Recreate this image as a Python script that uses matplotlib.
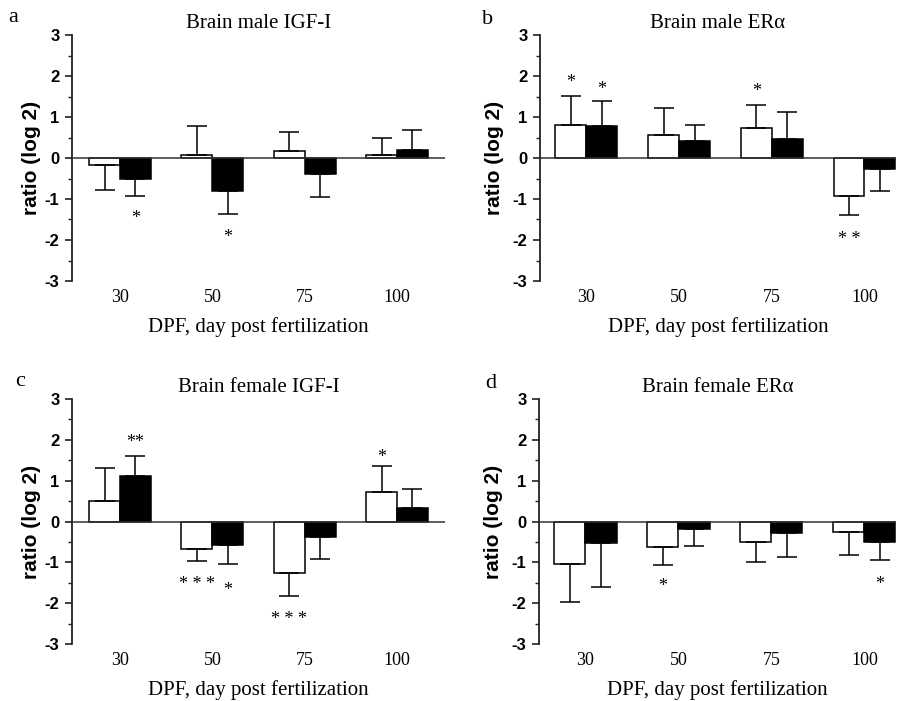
import matplotlib
matplotlib.use("Agg")
import matplotlib.pyplot as plt
import matplotlib.transforms as mtransforms
import numpy as np
from matplotlib.ticker import MultipleLocator

days = ["30", "50", "75", "100"]

# panel a: Brain male IGF-I
a_white = [-0.18, 0.07, 0.18, 0.07]
a_white_err = [0.60, 0.72, 0.45, 0.41]
a_black = [-0.50, -0.80, -0.38, 0.20]
a_black_err = [0.42, 0.56, 0.57, 0.48]
a_stars = [("30", "black", -1.39, "*"), ("50", "black", -1.83, "*")]

# panel b: Brain male ERα
b_white = [0.80, 0.55, 0.72, -0.93]
b_white_err = [0.72, 0.67, 0.58, 0.45]
b_black = [0.78, 0.42, 0.47, -0.27]
b_black_err = [0.60, 0.38, 0.65, 0.53]
b_stars = [("30", "white", 1.93, "*"), ("30", "black", 1.78, "*"),
           ("75", "white", 1.71, "*"), ("100", "white", -1.88, "* *")]

# panel c: Brain female IGF-I
c_white = [0.51, -0.67, -1.26, 0.73]
c_white_err = [0.80, 0.30, 0.57, 0.62]
c_black = [1.11, -0.57, -0.38, 0.33]
c_black_err = [0.50, 0.46, 0.55, 0.47]
c_stars = [("30", "black", 2.03, "**"), ("50", "white", -1.44, "* * *"),
           ("50", "black", -1.58, "*"), ("75", "white", -2.31, "* * *"),
           ("100", "white", 1.67, "*")]

# panel d: Brain female ERα
d_white = [-1.04, -0.62, -0.49, -0.26]
d_white_err = [0.92, 0.45, 0.49, 0.56]
d_black = [-0.52, -0.19, -0.28, -0.50]
d_black_err = [1.09, 0.42, 0.60, 0.45]
d_stars = [("50", "white", -1.49, "*"), ("100", "black", -1.45, "*")]

titles = ["Brain male IGF-I", "Brain male ER\u03b1", "Brain female IGF-I", "Brain female ER\u03b1"]
letters = ["a", "b", "c", "d"]

W, H = 898, 701
fig = plt.figure(figsize=(W / 100, H / 100), dpi=100)

serif = "Liberation Serif"
sans = "Liberation Sans"

# axes positions in pixels: left, right, top, bottom
boxes = [(72, 445, 35, 281), (540, 896, 35, 281), (72, 445, 399, 644), (539, 896, 399, 644)]
xlims = [(-0.52, 3.52), (-0.5, 3.34), (-0.52, 3.52), (-0.5, 3.34)]
letter_pos = [(13, 17), (488, 19), (20, 382), (491, 384)]

panels = [
    (a_white, a_white_err, a_black, a_black_err, a_stars),
    (b_white, b_white_err, b_black, b_black_err, b_stars),
    (c_white, c_white_err, c_black, c_black_err, c_stars),
    (d_white, d_white_err, d_black, d_black_err, d_stars),
]

w = 0.334
x = np.arange(len(days))

def one_sided(vals, errs):
    lo = [e if v < 0 else 0 for v, e in zip(vals, errs)]
    hi = [e if v >= 0 else 0 for v, e in zip(vals, errs)]
    return [lo, hi]

for i, (wv, we, bv, be, stars) in enumerate(panels):
    l, r, t, b = boxes[i]
    ax = fig.add_axes([l / W, 1 - b / H, (r - l) / W, (b - t) / H])
    ax.set_xlim(*xlims[i])
    ax.set_ylim(-3, 3)
    ek = dict(ecolor="black", elinewidth=1.1, capsize=7, capthick=1.1)
    ax.bar(x - w / 2, wv, w, color="white", edgecolor="black", linewidth=1.1,
           yerr=one_sided(wv, we), error_kw=ek, zorder=2)
    ax.bar(x + w / 2, bv, w, color="black", edgecolor="black", linewidth=1.1,
           yerr=one_sided(bv, be), error_kw=ek, zorder=2)
    ax.axhline(0, color="#333333", linewidth=1.1, zorder=3)
    star_tr = ax.transData + mtransforms.ScaledTranslation(0, -4 / 100, fig.dpi_scale_trans)
    for day, grp, yy, s in stars:
        k = days.index(day)
        xx = k - w / 2 if grp == "white" else k + w / 2
        ax.text(xx, yy, s, ha="center", va="center", fontsize=13, family=serif,
                transform=star_tr)
    for sp in ["top", "right", "bottom"]:
        ax.spines[sp].set_visible(False)
    ax.spines["left"].set_linewidth(1.3)
    ax.spines["left"].set_color("#222222")
    ax.yaxis.set_major_locator(MultipleLocator(1))
    ax.yaxis.set_minor_locator(MultipleLocator(0.5))
    ax.tick_params(axis="y", which="major", length=5, width=1.2, pad=4, color="#222222")
    ax.tick_params(axis="y", which="minor", length=3, width=1.0, color="#222222")
    ax.set_yticks([-3, -2, -1, 0, 1, 2, 3])
    ax.set_yticklabels(["-3", "-2", "-1", "0", "1", "2", "3"], family=sans,
                       fontweight="bold", fontsize=12)
    ax.set_xticks(x)
    ax.set_xticklabels(days, family=serif, fontsize=13)
    ax.tick_params(axis="x", length=0, pad=6)
    ax.set_ylabel("ratio (log 2)", family=sans, fontweight="bold", fontsize=15,
                  labelpad=2.5 if i % 2 == 0 else 6)
    ax.set_xlabel("DPF, day post fertilization", family=serif, fontsize=15, labelpad=8)
    ax.set_title(titles[i], family=serif, fontsize=15, pad=5)
    lx, ly = letter_pos[i]
    fig.text(lx / W, 1 - ly / H, letters[i], family=serif, fontsize=16,
             ha="center", va="center")

fig.savefig("out.png", dpi=100)
